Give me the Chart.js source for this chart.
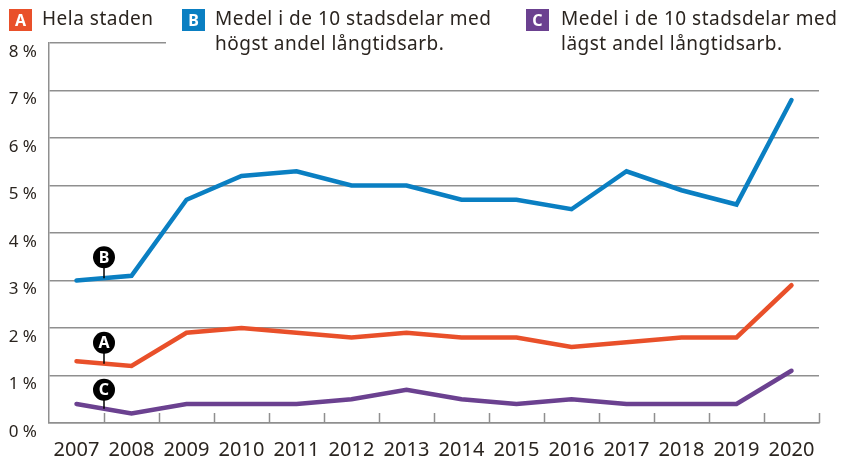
<!DOCTYPE html>
<html>
<head>
<meta charset="utf-8">
<script src="https://cdn.jsdelivr.net/npm/chart.js@4/dist/chart.umd.min.js"></script>
<style>
  html, body { margin: 0; padding: 0; background: #fff; }
  #wrap { position: relative; width: 841px; height: 461px; }
  canvas { position: absolute; left: 0; top: 0; }
  .leg { position: absolute; top: 0; height: 58px; background: #fff; font-family: "Noto Sans", sans-serif; font-size: 19px; letter-spacing: 0.5px; color: #2a241f; line-height: 25px; }
  .badge { position: absolute; top: 9px; width: 23px; height: 22px; color: #fff; font-weight: bold; font-size: 16px; letter-spacing: 0; line-height: 22px; text-align: center; }
  .txt { position: absolute; top: 6px; white-space: nowrap; }
</style>
</head>
<body>
<div id="wrap">
  <canvas id="lineChart" width="841" height="461"></canvas>
  <div class="leg" style="left:0; width:166px; background:transparent;">
    <div class="badge" style="left:9px; background:#e9502a;">A</div>
    <div class="txt" style="left:42px;">Hela staden</div>
  </div>
  <div class="leg" style="left:166px; width:352px;">
    <div class="badge" style="left:16px; background:#0a7fc2;">B</div>
    <div class="txt" style="left:49px;">Medel i de 10 stadsdelar med<br>högst andel långtidsarb.</div>
  </div>
  <div class="leg" style="left:518px; width:323px;">
    <div class="badge" style="left:8px; background:#6b4190;">C</div>
    <div class="txt" style="left:43px;">Medel i de 10 stadsdelar med<br>lägst andel långtidsarb.</div>
  </div>
</div>
<script>
document.addEventListener('DOMContentLoaded', function () {
    // Years on the x axis
    var years = ['2007', '2008', '2009', '2010', '2011', '2012', '2013', '2014', '2015', '2016', '2017', '2018', '2019', '2020'];

    // A - Hela staden
    var helaStaden = [1.3, 1.2, 1.9, 2.0, 1.9, 1.8, 1.9, 1.8, 1.8, 1.6, 1.7, 1.8, 1.8, 2.9];
    // B - highest share
    var hogstAndel = [3.0, 3.1, 4.7, 5.2, 5.3, 5.0, 5.0, 4.7, 4.7, 4.5, 5.3, 4.9, 4.6, 6.8];
    // C - lowest share
    var lagstAndel = [0.4, 0.2, 0.4, 0.4, 0.4, 0.5, 0.7, 0.5, 0.4, 0.5, 0.4, 0.4, 0.4, 1.1];

    var yTicks = [0, 1, 2, 3, 4, 5, 6, 7, 8];

    // letter pins sitting between 2007 and 2008, value = circle centre
    var pinLetters = ['A', 'B', 'C'];
    var pinSeries = [0, 1, 2];
    var pinValues = [1.69, 3.49, 0.7];

    var gridColor = '#8f8f8f';
    var fontFamily = '"Noto Sans", sans-serif';

    // draws the short inside ticks on the x axis and the letter pins
    var extrasPlugin = {
        id: 'extras',
        afterDatasetsDraw: function (chart) {
            var ctx = chart.ctx;
            var xs = chart.scales.x;
            var ys = chart.scales.y;
            var bottom = chart.chartArea.bottom;

            ctx.save();
            ctx.strokeStyle = gridColor;
            ctx.lineWidth = 1.5;
            for (var i = 1; i <= years.length; i++) {
                var tx = Math.round(xs.getPixelForValue(i - 0.5)) + 0.5;
                ctx.beginPath();
                ctx.moveTo(tx, bottom - 10);
                ctx.lineTo(tx, bottom);
                ctx.stroke();
            }

            pinLetters.forEach(function (letter, k) {
                var meta = chart.getDatasetMeta(pinSeries[k]);
                var p0 = meta.data[0], p1 = meta.data[1];
                var cx = (p0.x + p1.x) / 2;
                var lineY = (p0.y + p1.y) / 2;
                var cy = ys.getPixelForValue(pinValues[k]);
                ctx.strokeStyle = '#000';
                ctx.lineWidth = 1.5;
                ctx.beginPath();
                ctx.moveTo(cx, cy);
                ctx.lineTo(cx, lineY);
                ctx.stroke();
                ctx.fillStyle = '#000';
                ctx.beginPath();
                ctx.arc(cx, cy, 11, 0, Math.PI * 2);
                ctx.fill();
                ctx.fillStyle = '#fff';
                ctx.font = 'bold 16px ' + fontFamily;
                ctx.textAlign = 'center';
                ctx.textBaseline = 'middle';
                ctx.fillText(letter, cx, cy + 1);
            });
            ctx.restore();
        }
    };

    var ctx = document.getElementById('lineChart').getContext('2d');
    new Chart(ctx, {
        type: 'line',
        data: {
            labels: years,
            datasets: [
                { label: 'Hela staden', data: helaStaden, borderColor: '#e9502a' },
                { label: 'Högst andel', data: hogstAndel, borderColor: '#0a7fc2' },
                { label: 'Lägst andel', data: lagstAndel, borderColor: '#6b4190' }
            ]
        },
        options: {
            responsive: false,
            animation: false,
            layout: { padding: { top: 43, right: 22, left: 0, bottom: 0 } },
            elements: {
                line: { borderWidth: 4.5, tension: 0, borderCapStyle: 'round', borderJoinStyle: 'miter', fill: false },
                point: { radius: 0 }
            },
            plugins: {
                legend: { display: false },
                tooltip: { enabled: false }
            },
            scales: {
                x: {
                    offset: true,
                    grid: { display: false, drawTicks: false },
                    border: { display: true, color: gridColor, width: 1.5 },
                    ticks: {
                        color: '#2a241f',
                        font: { family: fontFamily, size: 20 },
                        padding: 15,
                        maxRotation: 0,
                        autoSkip: false
                    },
                    afterFit: function (scale) { scale.height = 38; }
                },
                y: {
                    min: 0,
                    max: 8,
                    afterBuildTicks: function (scale) {
                        scale.ticks = yTicks.map(function (v) { return { value: v }; });
                    },
                    grid: { color: gridColor, lineWidth: 1.5, drawTicks: false },
                    border: { display: true, color: gridColor, width: 1.5 },
                    ticks: {
                        color: '#2a241f',
                        font: { family: fontFamily, size: 17 },
                        padding: 12,
                        labelOffset: 9,
                        callback: function (v) { return v + ' %'; }
                    },
                    afterFit: function (scale) { scale.width = 49; }
                }
            }
        },
        plugins: [extrasPlugin]
    });
});
</script>
</body>
</html>
